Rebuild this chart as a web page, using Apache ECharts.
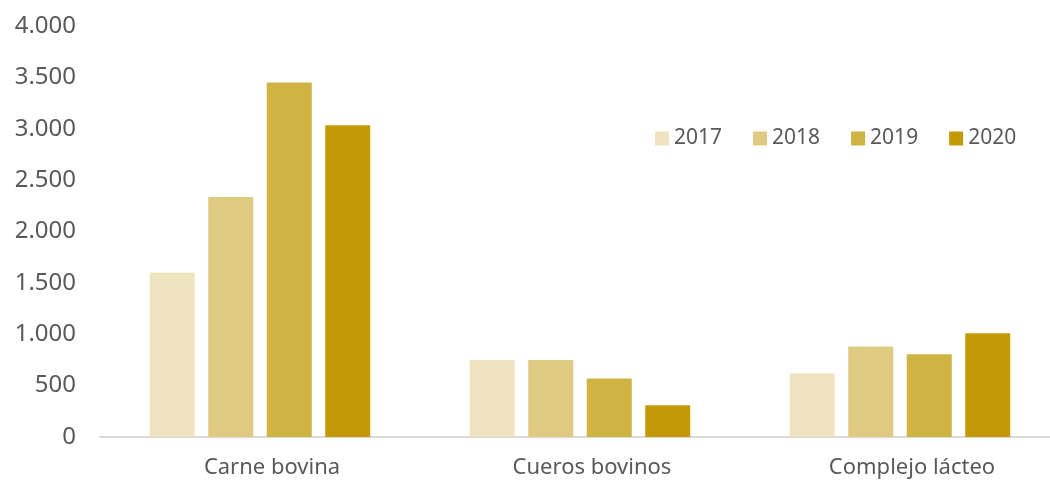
<!DOCTYPE html>
<html>
<head>
<meta charset="utf-8">
<script src="https://cdn.jsdelivr.net/npm/echarts@6/dist/echarts.min.js"></script>
<style>
  html, body { margin: 0; padding: 0; background: #fff; }
  #chart { width: 1050px; height: 480px; }
</style>
</head>
<body>
<div id="chart"></div>
<script>
// datos
const categorias = ['Carne bovina', 'Cueros bovinos', 'Complejo lácteo'];
const anios = ['2017', '2018', '2019', '2020'];
const colores = ['#EFE4C0', '#DFCA82', '#CFB343', '#C39A05'];
const v2017 = [1600, 750, 620];
const v2018 = [2335, 750, 880];
const v2019 = [3450, 570, 805];
const v2020 = [3035, 310, 1010];
const valores = [v2017, v2018, v2019, v2020];

const chart = echarts.init(document.getElementById('chart'));

const fuente = '"Noto Sans", sans-serif';

chart.setOption({
    animation: false,
    legend: {
        data: anios,
        left: 650,
        top: 123,
        itemWidth: 14,
        itemHeight: 14,
        itemGap: 31,
        icon: 'rect',
        textStyle: {
            fontSize: 21,
            color: '#595959',
            fontFamily: fuente
        }
    },
    grid: {
        left: 100,
        right: -10,
        top: 26,
        bottom: 43,
        outerBoundsMode: 'none'
    },
    xAxis: {
        type: 'category',
        data: categorias,
        axisLine: {
            lineStyle: { color: '#D9D9D9', width: 2 }
        },
        axisTick: { show: false },
        axisLabel: {
            fontSize: 22,
            color: '#595959',
            fontFamily: fuente,
            margin: 20,
            padding: [0, 0, 0, 24]
        }
    },
    yAxis: {
        type: 'value',
        min: 0,
        max: 4000,
        interval: 500,
        axisLine: { show: false },
        axisTick: { show: false },
        splitLine: { show: false },
        axisLabel: {
            fontSize: 24,
            color: '#595959',
            fontFamily: fuente,
            margin: 24,
            formatter: v => v.toLocaleString('de-DE')
        }
    },
    series: anios.map((a, i) => ({
        name: a,
        type: 'bar',
        data: valores[i],
        barWidth: 45,
        barGap: '30%',
        itemStyle: { color: colores[i] }
    }))
});

window.addEventListener('resize', function () {
    chart.resize();
});
</script>
</body>
</html>
